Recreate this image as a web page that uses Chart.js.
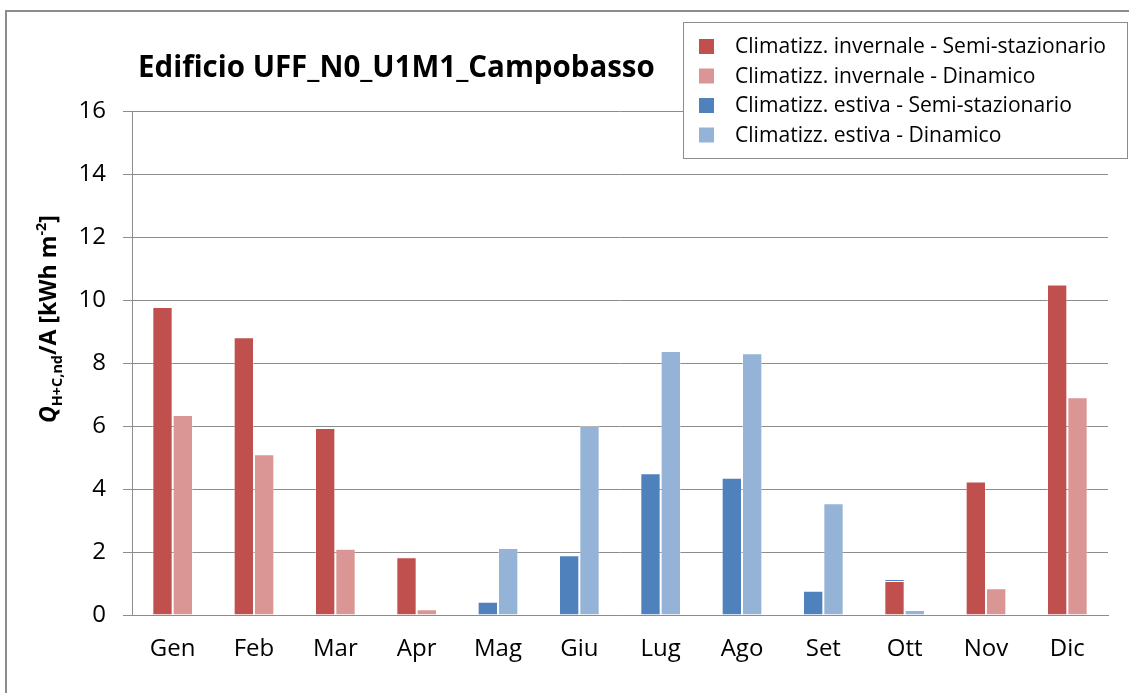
<!DOCTYPE html>
<html>
<head>
<meta charset="utf-8">
<script src="https://cdn.jsdelivr.net/npm/chart.js@4.4.1/dist/chart.umd.min.js"></script>
<style>
  html, body { margin: 0; padding: 0; background: #fff; }
  #chart { display: block; }
</style>
</head>
<body>
<canvas id="chart" width="1129" height="693"></canvas>
<script>
    // Months
    var months = ['Gen', 'Feb', 'Mar', 'Apr', 'Mag', 'Giu', 'Lug', 'Ago', 'Set', 'Ott', 'Nov', 'Dic'];

    // Series values (kWh/m2)
    var invernaleSemi = [9.78, 8.82, 5.94, 1.83, 0, 0, 0, 0, 0, 1.08, 4.24, 10.49];
    var invernaleDin  = [6.35, 5.10, 2.10, 0.18, 0, 0, 0, 0, 0, 0, 0.85, 6.91];
    var estivaSemi    = [0, 0, 0, 0.03, 0.42, 1.90, 4.50, 4.36, 0.77, 0.06, 0, 0];
    var estivaDin     = [0, 0, 0, 0, 2.13, 6.00, 8.38, 8.31, 3.55, 0.16, 0, 0];

    var yTicks = [0, 2, 4, 6, 8, 10, 12, 14, 16];

    var seriesLabels = [
        'Climatizz. invernale - Semi-stazionario',
        'Climatizz. invernale - Dinamico',
        'Climatizz. estiva - Semi-stazionario',
        'Climatizz. estiva - Dinamico'
    ];
    var seriesColors = ['#C0504D', '#D99694', '#4F81BD', '#95B3D7'];

    var FONT = '"Open Sans", Lato, sans-serif';
    var GRID = '#8c8c8c';

    function makeSet(i, values, stack) {
        return {
            label: seriesLabels[i],
            data: values,
            stack: stack,
            backgroundColor: seriesColors[i],
            borderColor: 'rgba(255,255,255,0.35)',
            borderWidth: 1,
            borderSkipped: 'bottom',
            barPercentage: 1.0,
            categoryPercentage: 0.5
        };
    }

    // font size that makes text about the given width
    function fitSize(ctx, text, style, width) {
        ctx.font = style + ' 20px ' + FONT;
        return 20 * width / ctx.measureText(text).width;
    }

    // Frame, title, axis title and boxed legend
    var decorPlugin = {
        id: 'decor',
        beforeDraw: function(chart) {
            var ctx = chart.ctx;
            ctx.save();
            ctx.fillStyle = '#fff';
            ctx.fillRect(0, 0, chart.width, chart.height);
            ctx.strokeStyle = '#8c8c8c';
            ctx.lineWidth = 2;
            ctx.beginPath();
            ctx.moveTo(6, chart.height);
            ctx.lineTo(6, 11);
            ctx.lineTo(chart.width, 11);
            ctx.stroke();
            ctx.restore();
        },
        afterDraw: function(chart) {
            var ctx = chart.ctx;
            ctx.save();

            // title
            var title = 'Edificio UFF_N0_U1M1_Campobasso';
            var ts = fitSize(ctx, title, 'bold', 517);
            ctx.fillStyle = '#000';
            ctx.font = 'bold ' + ts + 'px ' + FONT;
            ctx.textBaseline = 'alphabetic';
            ctx.textAlign = 'left';
            ctx.fillText(title, 138, 77);

            // y axis title, rotated, with sub/superscripts
            var parts = [
                { t: 'Q', big: true, it: true, dy: 0 },
                { t: 'H+C,nd', big: false, dy: 6 },
                { t: '/A [kWh m', big: true, dy: 0 },
                { t: '-2', big: false, dy: -10 },
                { t: ']', big: true, dy: 0 }
            ];
            var big = 24, small = 15;
            var total = 0;
            parts.forEach(function(p) {
                p.f = (p.it ? 'italic ' : '') + 'bold ' + (p.big ? big : small) + 'px ' + FONT;
                ctx.font = p.f;
                p.w = ctx.measureText(p.t).width;
                total += p.w;
            });
            var k = 208 / total;
            ctx.translate(56, 319);
            ctx.rotate(-Math.PI / 2);
            var x = -208 / 2;
            parts.forEach(function(p) {
                ctx.font = (p.it ? 'italic ' : '') + 'bold ' + ((p.big ? big : small) * k) + 'px ' + FONT;
                ctx.fillText(p.t, x, p.dy);
                x += p.w * k;
            });
            ctx.setTransform(1, 0, 0, 1, 0, 0);

            // legend box
            var bx = 683.5, by = 22.5, bw = 444, bh = 136;
            ctx.fillStyle = '#fff';
            ctx.fillRect(bx, by, bw, bh);
            ctx.strokeStyle = '#8c8c8c';
            ctx.lineWidth = 1;
            ctx.strokeRect(bx, by, bw, bh);
            var ls = fitSize(ctx, seriesLabels[0], '', 371);
            ctx.font = ls + 'px ' + FONT;
            ctx.textBaseline = 'middle';
            seriesLabels.forEach(function(lbl, i) {
                var cy = 46 + i * 29.5;
                ctx.fillStyle = seriesColors[i];
                ctx.fillRect(699, cy - 7, 15, 15);
                ctx.fillStyle = '#000';
                ctx.fillText(lbl, 735, cy + 1);
            });
            ctx.restore();
        }
    };

    var chart = new Chart(document.getElementById('chart'), {
        type: 'bar',
        data: {
            labels: months,
            datasets: [
                makeSet(0, invernaleSemi, 'semi'),
                makeSet(1, invernaleDin, 'din'),
                makeSet(2, estivaSemi, 'semi'),
                makeSet(3, estivaDin, 'din')
            ]
        },
        options: {
            responsive: false,
            animation: false,
            devicePixelRatio: 1,
            layout: { padding: { left: 0, right: 21, top: 111, bottom: 0 } },
            plugins: {
                legend: { display: false },
                title: { display: false },
                tooltip: { enabled: false }
            },
            scales: {
                x: {
                    stacked: true,
                    grid: { display: false, drawTicks: false },
                    border: { display: true, color: GRID, width: 1 },
                    ticks: { color: '#000', font: { family: FONT, size: 24 }, padding: 20 },
                    afterFit: function(scale) { scale.height = 78; }
                },
                y: {
                    stacked: true,
                    min: 0,
                    max: 16,
                    afterBuildTicks: function(scale) {
                        scale.ticks = yTicks.map(function(v) { return { value: v }; });
                    },
                    grid: { color: GRID, lineWidth: 1, drawTicks: true, tickLength: 9, tickColor: GRID },
                    border: { display: true, color: GRID, width: 1 },
                    ticks: { color: '#000', font: { family: FONT, size: 24 }, padding: 17 },
                    afterFit: function(scale) { scale.width = 132; }
                }
            }
        },
        plugins: [decorPlugin]
    });
</script>
</body>
</html>
